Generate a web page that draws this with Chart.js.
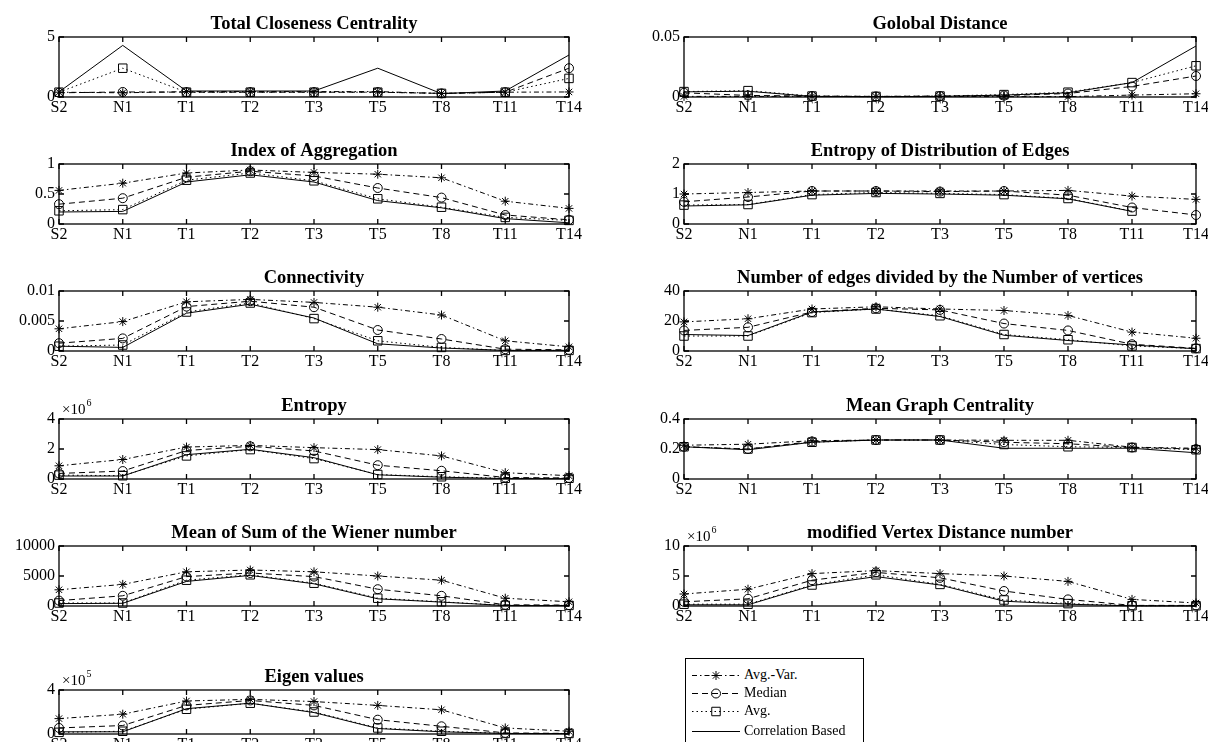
<!DOCTYPE html>
<html>
<head>
<meta charset="utf-8">
<script src="https://cdn.jsdelivr.net/npm/chart.js@4.4.0/dist/chart.umd.min.js"></script>
<style>
html,body{margin:0;padding:0;background:#fff;}
body{width:1208px;height:742px;position:relative;overflow:hidden;font-family:"Liberation Serif","Times New Roman",serif;}
canvas.panel{position:absolute;}
#legend{position:absolute;left:685px;top:658px;width:179px;height:100px;border:1px solid #000;background:#fff;box-sizing:border-box;}
#legend .row{position:absolute;left:0;height:18px;}
#legend canvas{position:absolute;left:4px;top:0;}
#legend span{position:absolute;left:58px;top:1px;font-size:14px;white-space:nowrap;color:#000;}
</style>
</head>
<body>
<div id="legend"></div>
<script>
const categories = ["S2","N1","T1","T2","T3","T5","T8","T11","T14"];
const seriesNames = ["Avg.-Var.","Median","Avg.","Correlation Based"];

// -------------------- DATA --------------------
// Total Closeness Centrality
const tccAvgVar = [0.4,0.35,0.45,0.45,0.45,0.45,0.3,0.4,0.42];
const tccMedian = [0.35,0.42,0.4,0.4,0.4,0.4,0.3,0.4,2.4];
const tccAvg    = [0.4,2.4,0.4,0.4,0.4,0.4,0.3,0.4,1.55];
const tccCorr   = [0.42,4.3,0.5,0.5,0.5,2.4,0.28,0.5,3.5];
const tccTicks  = [0,5];

// Golobal Distance
const gdAvgVar = [0.0005,0.0005,0.0005,0.0003,0.0005,0.0003,0.0003,0.0016,0.0027];
const gdMedian = [0.0035,0.0013,0.0008,0.0005,0.0008,0.0012,0.0029,0.0088,0.0175];
const gdAvg    = [0.0045,0.0053,0.0008,0.0005,0.0008,0.002,0.004,0.012,0.026];
const gdCorr   = [0.0043,0.0048,0.0005,0.0003,0.0005,0.0016,0.0035,0.012,0.0425];
const gdTicks  = [0,0.05];

// Index of Aggregation
const iaAvgVar = [0.56,0.68,0.85,0.9,0.86,0.83,0.77,0.38,0.26];
const iaMedian = [0.33,0.43,0.78,0.88,0.8,0.6,0.44,0.15,0.07];
const iaAvg    = [0.22,0.24,0.73,0.85,0.72,0.42,0.28,0.11,0.06];
const iaCorr   = [0.2,0.21,0.7,0.82,0.7,0.39,0.27,0.09,0.02];
const iaTicks  = [0,0.5,1];

// Entropy of Distribution of Edges
const edAvgVar = [1.0,1.05,1.1,1.1,1.1,1.1,1.12,0.93,0.82];
const edMedian = [0.74,0.9,1.1,1.1,1.08,1.1,0.96,0.55,0.3];
const edAvg    = [0.63,0.65,0.98,1.05,1.02,0.98,0.85,0.43,null];
const edCorr   = [0.6,0.64,0.96,1.02,1.0,0.96,0.84,0.42,null];
const edTicks  = [0,1,2];

// Connectivity
const cnAvgVar = [0.0037,0.0049,0.0082,0.0086,0.0081,0.0073,0.006,0.0017,0.0007];
const cnMedian = [0.0013,0.0021,0.0074,0.0083,0.0073,0.0035,0.002,0.0003,0.0002];
const cnAvg    = [0.0008,0.001,0.0065,0.008,0.0054,0.0017,0.0006,0.0001,0.0001];
const cnCorr   = [0.0008,0.0006,0.0063,0.0078,0.0055,0.0012,0.0005,0.0001,0.0001];
const cnTicks  = [0,0.005,0.01];

// Number of edges divided by the Number of vertices
const evAvgVar = [19.4,21.5,28,29.5,28,27,23.7,12.6,8.5];
const evMedian = [13.7,15.8,26,28.5,27.4,18.3,13.7,4.5,1.8];
const evAvg    = [10,10,25.6,28,23.5,11,7.5,3.4,1.6];
const evCorr   = [11,10.3,26,28,23,10.5,7,4,1.5];
const evTicks  = [0,20,40];

// Entropy
const enAvgVar = [0.88e6,1.3e6,2.13e6,2.24e6,2.09e6,1.96e6,1.54e6,0.42e6,0.22e6];
const enMedian = [0.37e6,0.53e6,1.9e6,2.18e6,1.87e6,0.92e6,0.55e6,0.1e6,0.07e6];
const enAvg    = [0.26e6,0.22e6,1.54e6,1.96e6,1.36e6,0.3e6,0.15e6,0.05e6,0.05e6];
const enCorr   = [0.2e6,0.2e6,1.62e6,1.98e6,1.42e6,0.28e6,0.12e6,0.03e6,0.02e6];
const enTicks  = [0,2e6,4e6];

// Mean Graph Centrality
const mgAvgVar = [0.225,0.232,0.255,0.26,0.26,0.258,0.258,0.212,0.205];
const mgMedian = [0.215,0.2,0.25,0.26,0.26,0.245,0.235,0.21,0.2];
const mgAvg    = [0.215,0.2,0.245,0.26,0.26,0.23,0.215,0.21,0.195];
const mgCorr   = [0.215,0.195,0.245,0.26,0.26,0.205,0.205,0.205,0.175];
const mgTicks  = [0,0.2,0.4];

// Mean of Sum of the Wiener number
const wnAvgVar = [2700,3600,5700,6000,5700,5000,4300,1300,700];
const wnMedian = [900,1700,4900,5500,4900,2800,1700,200,150];
const wnAvg    = [500,500,4300,5200,3800,1300,700,100,100];
const wnCorr   = [400,450,4100,5100,3700,1200,650,80,60];
const wnTicks  = [0,5000,10000];

// modified Vertex Distance number
const vdAvgVar = [2.0e6,2.8e6,5.4e6,5.9e6,5.4e6,5.0e6,4.1e6,1.1e6,0.5e6];
const vdMedian = [0.7e6,1.2e6,4.3e6,5.6e6,4.7e6,2.5e6,1.1e6,0.1e6,0.1e6];
const vdAvg    = [0.3e6,0.3e6,3.5e6,5.2e6,3.6e6,1.0e6,0.4e6,0.05e6,0.05e6];
const vdCorr   = [0.2e6,0.2e6,3.4e6,4.9e6,3.5e6,0.8e6,0.3e6,0.03e6,0.02e6];
const vdTicks  = [0,5e6,10e6];

// Eigen values
const egAvgVar = [1.4e5,1.8e5,3.0e5,3.15e5,2.95e5,2.6e5,2.2e5,0.55e5,0.25e5];
const egMedian = [0.55e5,0.77e5,2.6e5,3.05e5,2.6e5,1.3e5,0.7e5,0.1e5,0.05e5];
const egAvg    = [0.15e5,0.25e5,2.25e5,2.8e5,2.0e5,0.55e5,0.25e5,0.05e5,0.05e5];
const egCorr   = [0.2e5,0.2e5,2.3e5,2.8e5,1.95e5,0.5e5,0.2e5,0.05e5,0.03e5];
const egTicks  = [0,2e5,4e5];

// -------------------- PANELS --------------------
const panels = [
  {title:"Total Closeness Centrality", col:0, row:0, ticks:tccTicks, exp:0, data:[tccAvgVar,tccMedian,tccAvg,tccCorr]},
  {title:"Index of Aggregation", col:0, row:1, ticks:iaTicks, exp:0, data:[iaAvgVar,iaMedian,iaAvg,iaCorr]},
  {title:"Connectivity", col:0, row:2, ticks:cnTicks, exp:0, data:[cnAvgVar,cnMedian,cnAvg,cnCorr]},
  {title:"Entropy", col:0, row:3, ticks:enTicks, exp:6, data:[enAvgVar,enMedian,enAvg,enCorr]},
  {title:"Mean of Sum of the Wiener number", col:0, row:4, ticks:wnTicks, exp:0, data:[wnAvgVar,wnMedian,wnAvg,wnCorr]},
  {title:"Eigen values", col:0, row:5, ticks:egTicks, exp:5, data:[egAvgVar,egMedian,egAvg,egCorr]},
  {title:"Golobal Distance", col:1, row:0, ticks:gdTicks, exp:0, data:[gdAvgVar,gdMedian,gdAvg,gdCorr]},
  {title:"Entropy of Distribution of Edges", col:1, row:1, ticks:edTicks, exp:0, data:[edAvgVar,edMedian,edAvg,edCorr]},
  {title:"Number of edges divided by the Number of vertices", col:1, row:2, ticks:evTicks, exp:0, data:[evAvgVar,evMedian,evAvg,evCorr]},
  {title:"Mean Graph Centrality", col:1, row:3, ticks:mgTicks, exp:0, data:[mgAvgVar,mgMedian,mgAvg,mgCorr]},
  {title:"modified Vertex Distance number", col:1, row:4, ticks:vdTicks, exp:6, data:[vdAvgVar,vdMedian,vdAvg,vdCorr]},
];

// -------------------- LAYOUT / STYLE --------------------
const FONT = '"Liberation Serif","Times New Roman",serif';
const COL_X = [[59,569],[684,1196]];
const frameH = r => r===5 ? 44 : 60;
const rowBottom = r => 96.5 + r*127.4;
const PAD_L = 70, PAD_R = 20, PAD_T = 36, PAD_B = 26;

const STYLES = [
  {borderDash:[5,3,1.5,3], pointStyle:'star', pointRadius:4.5},
  {borderDash:[6,4], pointStyle:'circle', pointRadius:4.5},
  {borderDash:[1.5,3], pointStyle:'rect', pointRadius:6},
  {borderDash:[], pointStyle:false, pointRadius:0}
];

function fmt(v){ return String(parseFloat(v.toPrecision(6))); }

// box, inward ticks, title and exponent label
const matlabFrame = {
  id:'matlabFrame',
  afterDraw(chart, args, opts){
    const {ctx, chartArea:a, scales:{x, y}} = chart;
    ctx.save();
    ctx.strokeStyle = '#000';
    ctx.lineWidth = 1.3;
    ctx.strokeRect(a.left, a.top, a.right-a.left, a.bottom-a.top);
    ctx.beginPath();
    x.ticks.forEach((t,i)=>{
      const px = x.getPixelForTick(i);
      ctx.moveTo(px,a.bottom); ctx.lineTo(px,a.bottom-5);
      ctx.moveTo(px,a.top); ctx.lineTo(px,a.top+5);
    });
    y.ticks.forEach(t=>{
      const py = y.getPixelForValue(t.value);
      ctx.moveTo(a.left,py); ctx.lineTo(a.left+5,py);
      ctx.moveTo(a.right,py); ctx.lineTo(a.right-5,py);
    });
    ctx.stroke();

    ctx.fillStyle = '#000';
    ctx.font = 'bold 18.5px '+FONT;
    ctx.textAlign = 'center';
    ctx.textBaseline = 'alphabetic';
    ctx.fillText(opts.title, (a.left+a.right)/2, a.top-8);

    if(opts.exp){
      ctx.textAlign = 'left';
      ctx.font = '15px '+FONT;
      ctx.fillText('\u00d710', a.left+3, a.top-5);
      const w = ctx.measureText('\u00d710').width;
      ctx.font = '10px '+FONT;
      ctx.fillText(String(opts.exp), a.left+3+w+1, a.top-13);
    }
    ctx.restore();
  }
};

function makePanel(p){
  const [fl, fr] = COL_X[p.col];
  const h = frameH(p.row);
  const fb = rowBottom(p.row), ft = fb - h;
  const canvas = document.createElement('canvas');
  canvas.className = 'panel';
  canvas.width = fr - fl + PAD_L + PAD_R;
  canvas.height = h + PAD_T + PAD_B;
  canvas.style.left = (fl - PAD_L)+'px';
  canvas.style.top = (ft - PAD_T)+'px';
  document.body.appendChild(canvas);

  const div = p.exp ? Math.pow(10,p.exp) : 1;
  const datasets = p.data.map((d,i)=>({
    label: seriesNames[i],
    data: d,
    borderColor:'#000',
    borderWidth:1,
    borderDash: STYLES[i].borderDash,
    pointStyle: STYLES[i].pointStyle,
    pointRadius: STYLES[i].pointRadius,
    pointBorderColor:'#000',
    pointBackgroundColor:'rgba(0,0,0,0)',
    pointBorderWidth:1,
    tension:0,
    fill:false,
    clip:false
  }));

  new Chart(canvas.getContext('2d'), {
    type:'line',
    data:{labels:categories, datasets},
    plugins:[matlabFrame],
    options:{
      responsive:false,
      animation:false,
      devicePixelRatio:1,
      events:[],
      layout:{padding:{left:0,right:PAD_R,top:PAD_T,bottom:0}},
      plugins:{
        legend:{display:false},
        tooltip:{enabled:false},
        matlabFrame:{title:p.title, exp:p.exp}
      },
      scales:{
        x:{
          type:'category',
          offset:false,
          grid:{display:false, drawTicks:false},
          border:{display:false},
          ticks:{color:'#000', font:{family:FONT, size:16}, padding:1, autoSkip:false, maxRotation:0, minRotation:0},
          afterFit(s){ s.height = PAD_B; }
        },
        y:{
          min:p.ticks[0],
          max:p.ticks[p.ticks.length-1],
          grid:{display:false, drawTicks:false},
          border:{display:false},
          afterBuildTicks(s){ s.ticks = p.ticks.map(v=>({value:v})); },
          ticks:{color:'#000', font:{family:FONT, size:16}, padding:4, callback:v=>fmt(v/div)},
          afterFit(s){ s.width = PAD_L; }
        }
      }
    }
  });
}

panels.forEach(makePanel);

// -------------------- LEGEND --------------------
function drawGlyph(c, i){
  const ctx = c.getContext('2d');
  const st = STYLES[i];
  ctx.strokeStyle = '#000';
  ctx.lineWidth = 1;
  ctx.setLineDash(st.borderDash);
  ctx.beginPath(); ctx.moveTo(2,9.5); ctx.lineTo(50,9.5); ctx.stroke();
  ctx.setLineDash([]);
  const cx = 26, cy = 9.5, r = st.pointRadius;
  ctx.beginPath();
  if(st.pointStyle==='star'){
    ctx.moveTo(cx-r,cy); ctx.lineTo(cx+r,cy); ctx.moveTo(cx,cy-r); ctx.lineTo(cx,cy+r);
    const d = r*Math.SQRT1_2;
    ctx.moveTo(cx-d,cy-d); ctx.lineTo(cx+d,cy+d); ctx.moveTo(cx-d,cy+d); ctx.lineTo(cx+d,cy-d);
    ctx.stroke();
  } else if(st.pointStyle==='circle'){
    ctx.arc(cx,cy,r,0,Math.PI*2); ctx.stroke();
  } else if(st.pointStyle==='rect'){
    const s = r*Math.SQRT1_2;
    ctx.rect(cx-s,cy-s,2*s,2*s); ctx.stroke();
  }
}

const legend = document.getElementById('legend');
const legendRowsY = [7,25,43,63];
seriesNames.forEach((name,i)=>{
  const row = document.createElement('div');
  row.className = 'row';
  row.style.top = legendRowsY[i]+'px';
  row.style.width = '178px';
  const c = document.createElement('canvas');
  c.width = 52; c.height = 19;
  row.appendChild(c);
  const sp = document.createElement('span');
  sp.textContent = name;
  row.appendChild(sp);
  legend.appendChild(row);
  drawGlyph(c,i);
});
</script>
</body>
</html>
